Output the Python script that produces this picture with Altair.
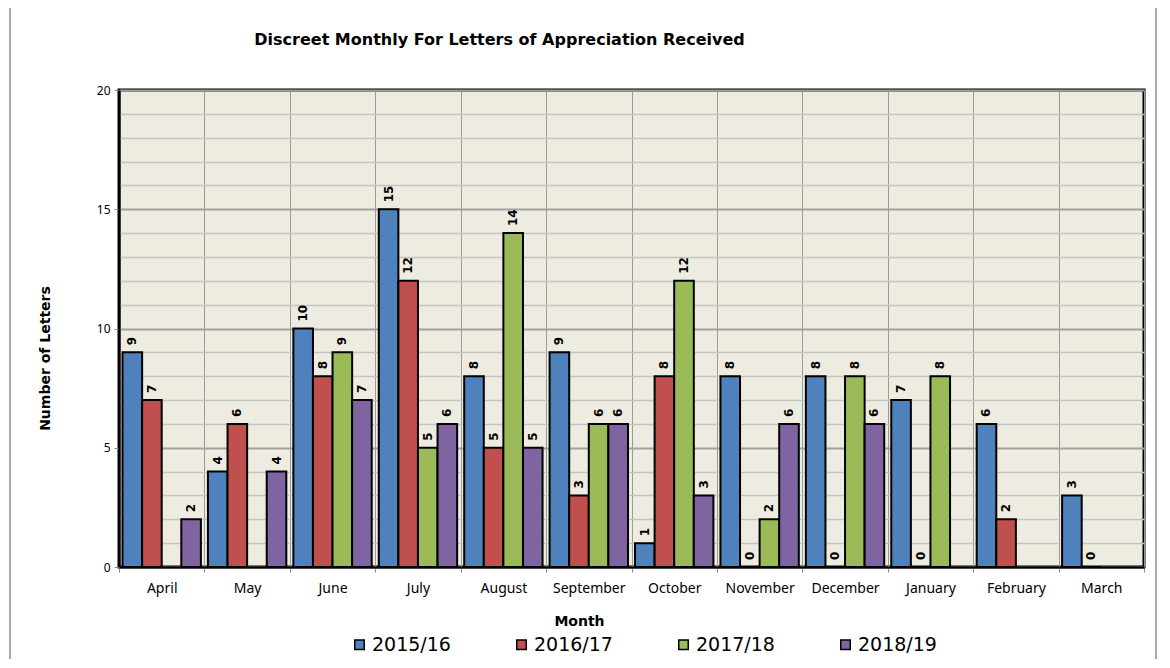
import altair as alt
import pandas as pd

months = ["April", "May", "June", "July", "August", "September", "October",
          "November", "December", "January", "February", "March"]
series = ["2015/16", "2016/17", "2017/18", "2018/19"]
v_2015_16 = [9, 4, 10, 15, 8, 9, 1, 8, 8, 7, 6, 3]
v_2016_17 = [7, 6, 8, 12, 5, 3, 8, 0, 0, 0, 2, 0]
v_2017_18 = [None, None, 9, 5, 14, 6, 12, 2, 8, 8, None, None]
v_2018_19 = [2, 4, 7, 6, 5, 6, 3, 6, 6, None, None, None]
colors = ["#4F81BD", "#C0504D", "#9BBB59", "#8064A2"]
y_ticks = list(range(0, 21))

rows = []
for s, vals in zip(series, [v_2015_16, v_2016_17, v_2017_18, v_2018_19]):
    for m, v in zip(months, vals):
        if v is not None:
            rows.append({"Month": m, "Series": s, "Letters": v})
df = pd.DataFrame(rows)

W, H = 1025, 477

x_enc = alt.X("Month:N", sort=months,
              scale=alt.Scale(domain=months, paddingInner=0, paddingOuter=0),
              axis=alt.Axis(title="Month", tickBand="extent", grid=True,
                            gridColor="#9a9a9a", gridWidth=1,
                            labelFont="Noto Sans", labelFontSize=14, labelColor="#000",
                            labelPadding=9, labelAngle=0, labelOverlap=False,
                            tickSize=5, tickColor="#888", domainColor="#000", domainWidth=2,
                            titleFont="DejaVu Sans", titleFontSize=14, titleFontWeight="bold",
                            titleColor="#000", titleX=460, titleY=54,
                            titleAnchor="start", titleAlign="center", titleBaseline="middle"))
xoff_enc = alt.XOffset("Series:N", scale=alt.Scale(domain=series, paddingInner=0, paddingOuter=0.18))
y_enc = alt.Y("Letters:Q", scale=alt.Scale(domain=[0, 20], nice=False),
              axis=alt.Axis(title="Number of Letters", values=y_ticks, labelOverlap=False,
                            labelExpr="datum.value % 5 === 0 ? datum.label : ''",
                            gridColor={"condition": {"test": "datum.value % 5 === 0", "value": "#a0a0a0"}, "value": "#c4c4c4"},
                            gridWidth={"condition": {"test": "datum.value % 5 === 0", "value": 2}, "value": 1.5},
                            tickOpacity={"condition": {"test": "datum.value % 5 === 0", "value": 1}, "value": 0},
                            tickSize=5, tickColor="#888", domainColor="#000", domainWidth=2,
                            labelFont="Noto Sans", labelFontSize=12, labelColor="#000", labelPadding=4,
                            titleFont="DejaVu Sans", titleFontSize=14, titleFontWeight="bold",
                            titleColor="#000", titleX=-74, titleY=268, titleAngle=-90,
                            titleAlign="center", titleBaseline="middle", titleAnchor="start"))

color_enc = alt.Color("Series:N", scale=alt.Scale(domain=series, range=colors),
                      legend=alt.Legend(title=None, orient="none", legendX=231, legendY=545,
                                        direction="horizontal", columns=4, columnPadding=61,
                                        symbolType="square", symbolSize=90,
                                        symbolStrokeColor="#000", symbolStrokeWidth=1.5,
                                        labelFont="DejaVu Sans", labelFontSize=19, labelColor="#000",
                                        labelOffset=3))

bars = alt.Chart(df).mark_bar(stroke="#000", strokeWidth=2).encode(
    x=x_enc, xOffset=xoff_enc, y=y_enc, color=color_enc
)

labels = alt.Chart(df).mark_text(angle=270, align="left", baseline="middle", dx=7,
                                 font="DejaVu Sans", fontSize=12, fontWeight="bold",
                                 color="#000").encode(
    x=x_enc, xOffset=xoff_enc, y=y_enc, text=alt.Text("Letters:Q")
)

frame_left = alt.Chart(df).mark_rule(color="#aaaaaa", strokeWidth=2).encode(
    x=alt.value(-109), y=alt.value(-85), y2=alt.value(H + 100))
frame_top = alt.Chart(df).mark_rule(color="#aaaaaa", strokeWidth=2).encode(
    x=alt.value(-109), x2=alt.value(W + 12), y=alt.value(-85))
frame_right = alt.Chart(df).mark_rule(color="#aaaaaa", strokeWidth=2).encode(
    x=alt.value(W + 12), y=alt.value(-85), y2=alt.value(H + 100))

chart = alt.layer(frame_left, frame_top, frame_right, bars, labels).properties(
    width=W, height=H,
    autosize=alt.AutoSizeParams(type="none"),
    padding={"left": 111, "top": 82, "right": 16, "bottom": 92},
    title=alt.TitleParams("Discreet Monthly For Letters of Appreciation Received",
                          font="DejaVu Sans", fontSize=16, fontWeight="bold", color="#000",
                          anchor="middle", frame="group", dx=-132, offset=-44),
).configure_view(
    fill="#EEECE1", stroke="#000", strokeWidth=3
)

chart.save("out.html", embed_options={"renderer": "svg", "actions": False})
